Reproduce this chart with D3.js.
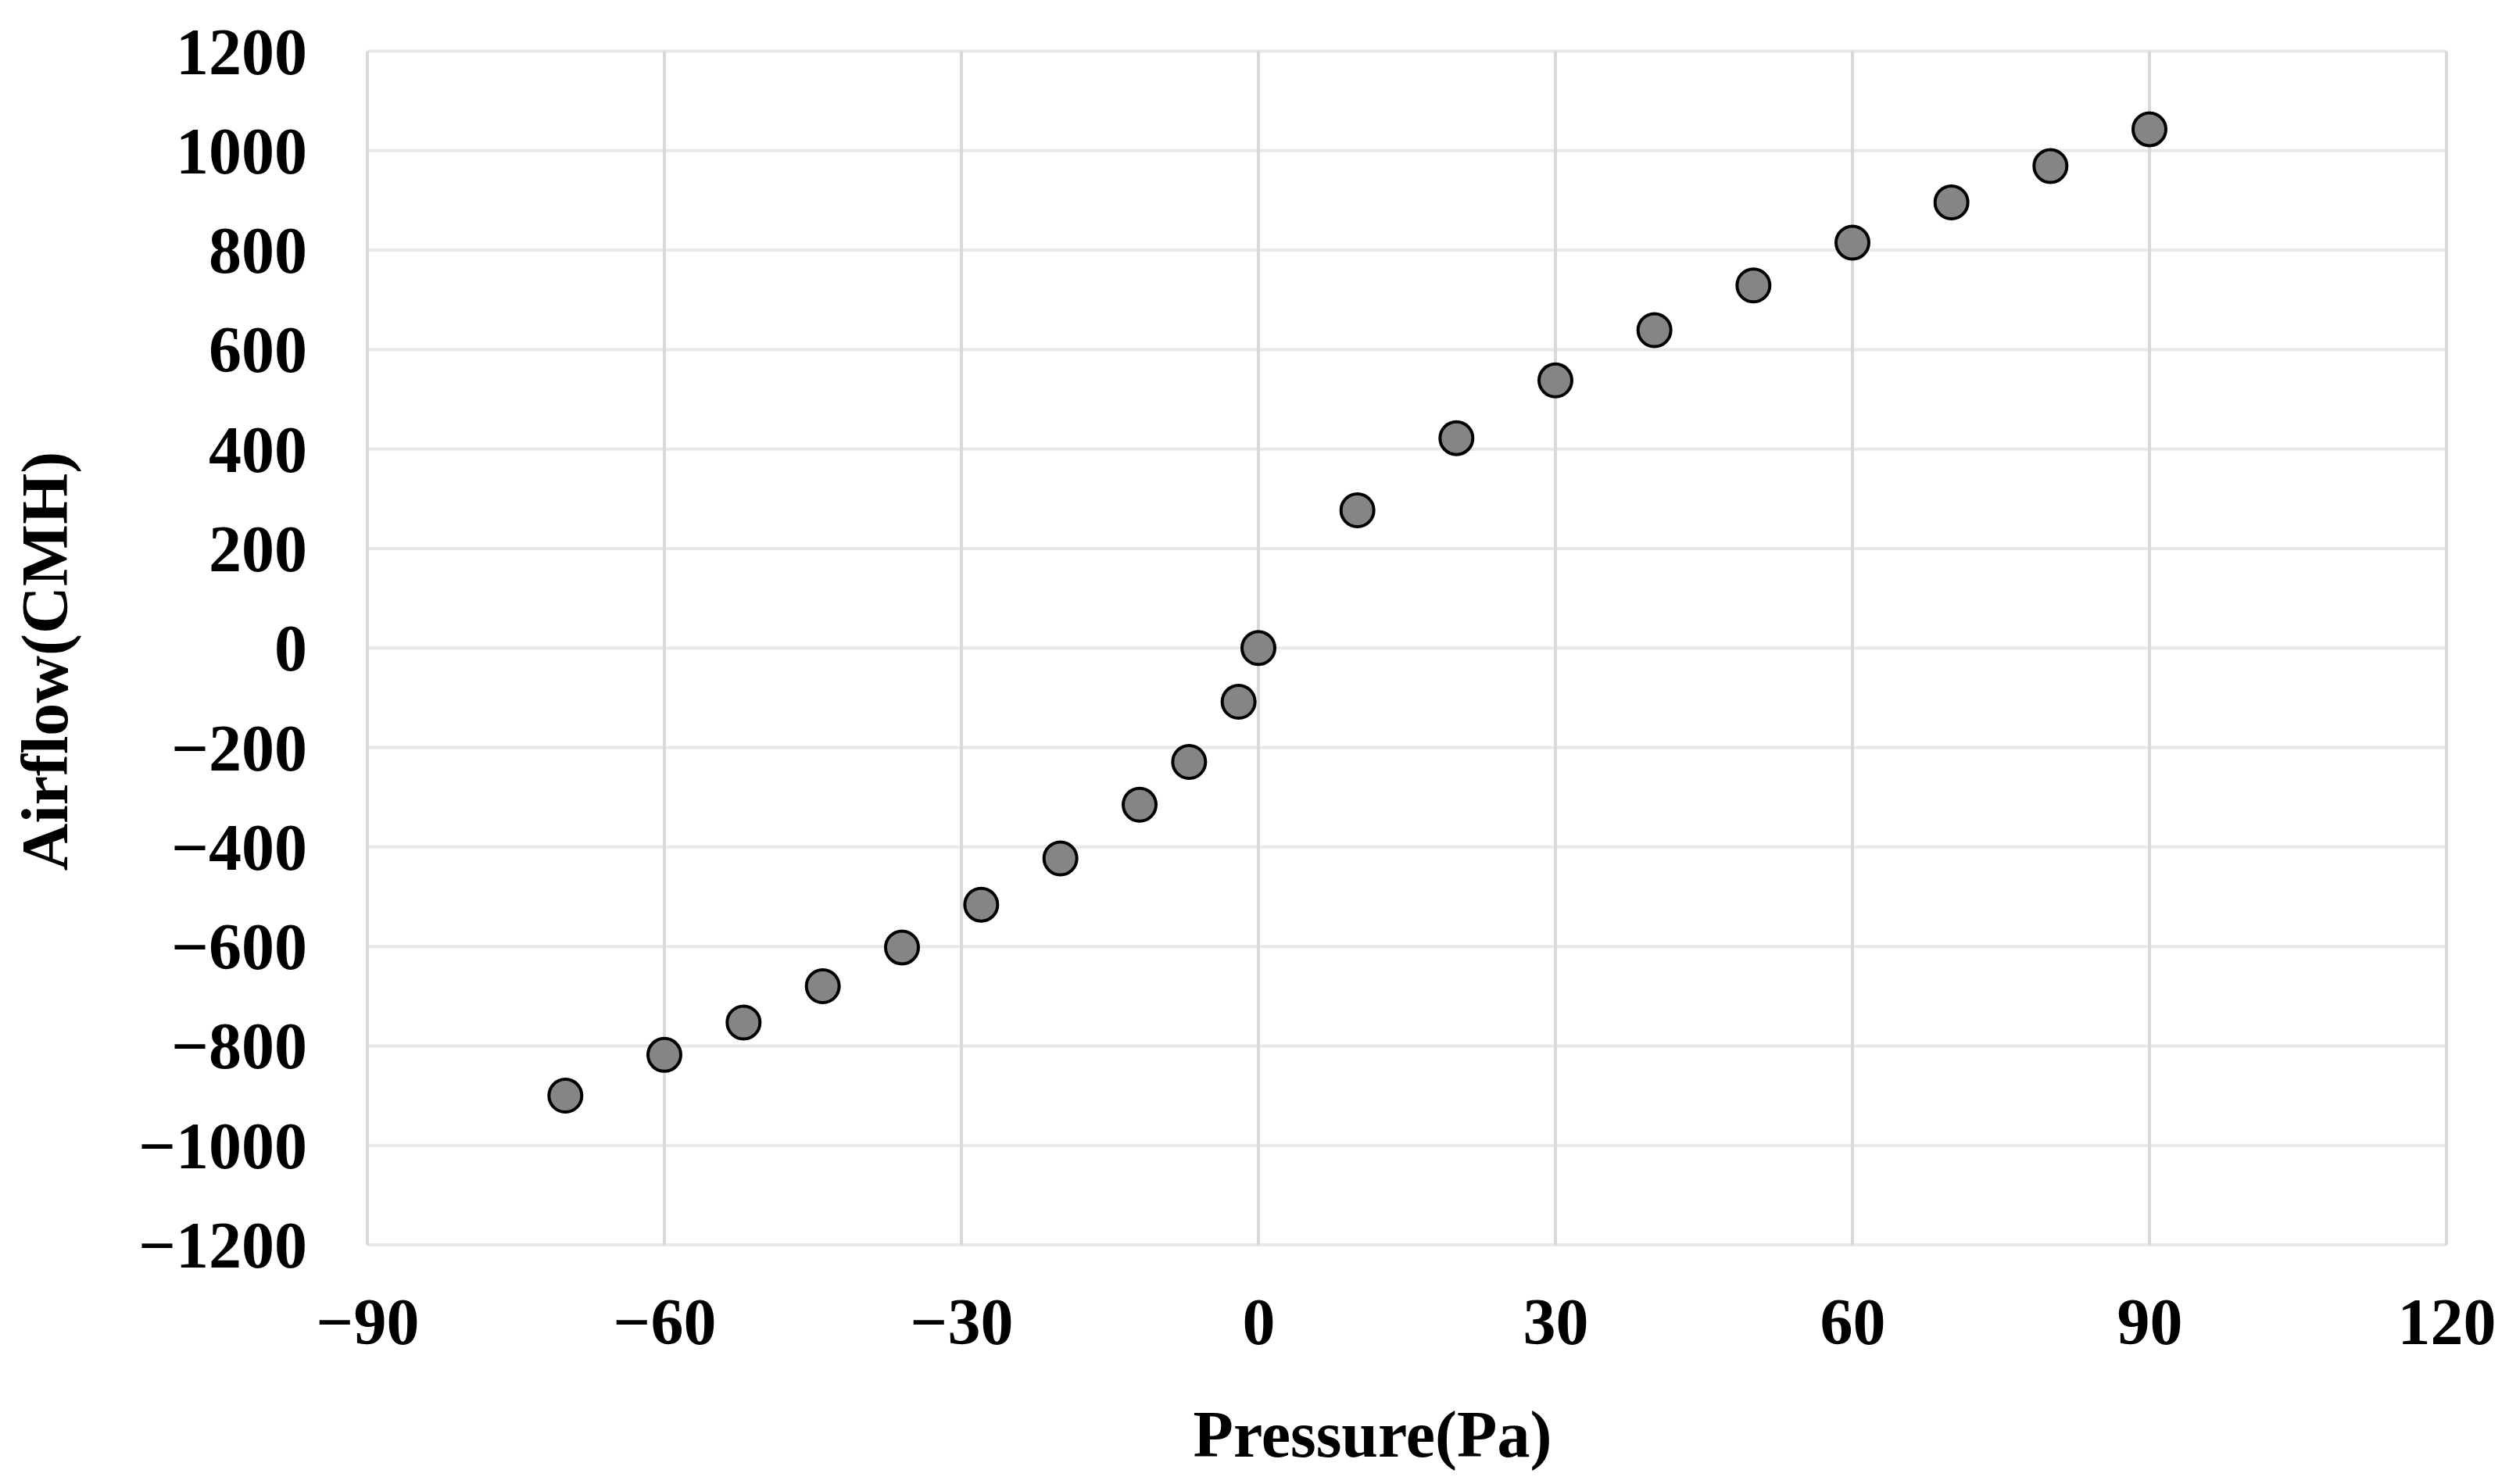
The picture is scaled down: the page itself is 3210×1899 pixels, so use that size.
<!DOCTYPE html>
<html>
<head>
<meta charset="utf-8">
<script src="https://cdn.jsdelivr.net/npm/d3@7"></script>
<style>
  html, body { margin: 0; padding: 0; background: #ffffff; }
  svg { display: block; }
</style>
</head>
<body>
<script>
// ---- data ----
const pressure = [-70, -60, -52, -44, -36, -28, -20, -12, -7, -2, 0, 10, 20, 30, 40, 50, 60, 70, 80, 90];
const airflow  = [-900, -818, -753, -680, -602, -516, -423, -315, -229, -108, 0, 277, 422, 538, 639, 729, 815, 896, 969, 1043];
const xTicks = [-90, -60, -30, 0, 30, 60, 90, 120];
const yTicks = [-1200, -1000, -800, -600, -400, -200, 0, 200, 400, 600, 800, 1000, 1200];
const xTitle = "Pressure(Pa)";
const yTitle = "Airflow(CMH)";

(function () {
// ---- layout ----
const W = 3210, H = 1899;
const mLeft = 470, mRight = 3130, mTop = 65.5, mBottom = 1593;
const font = "'Liberation Serif', 'Times New Roman', serif";

const svg = d3.select("body").append("svg").attr("width", W).attr("height", H);

const x = d3.scaleLinear().domain([-90, 120]).range([mLeft, mRight]);
const y = d3.scaleLinear().domain([-1200, 1200]).range([mBottom, mTop]);

// horizontal gridlines
svg.append("g").selectAll("line").data(yTicks).join("line")
  .attr("x1", mLeft).attr("x2", mRight)
  .attr("y1", d => y(d)).attr("y2", d => y(d))
  .attr("stroke", "#e8e8e8").attr("stroke-width", 4);

// vertical gridlines
svg.append("g").selectAll("line").data(xTicks).join("line")
  .attr("x1", d => x(d)).attr("x2", d => x(d))
  .attr("y1", mTop).attr("y2", mBottom)
  .attr("stroke", "#d9d9d9").attr("stroke-width", 4);

// y axis labels
const yAxis = d3.axisLeft(y).tickValues(yTicks).tickSize(0).tickPadding(0).tickFormat(d3.format("d"));
const gy = svg.append("g").attr("transform", `translate(${393},0)`).call(yAxis);
gy.select(".domain").remove();
gy.selectAll("text")
  .attr("font-family", font).attr("font-weight", "bold").attr("font-size", 84)
  .attr("fill", "#000").attr("x", 0).attr("dy", "0.34em");

// x axis labels
const xAxis = d3.axisBottom(x).tickValues(xTicks).tickSize(0).tickPadding(0).tickFormat(d3.format("d"));
const gx = svg.append("g").attr("transform", `translate(0,${1720})`).call(xAxis);
gx.select(".domain").remove();
gx.selectAll("text")
  .attr("font-family", font).attr("font-weight", "bold").attr("font-size", 84)
  .attr("fill", "#000").attr("y", 0).attr("dy", 0);

// axis titles
svg.append("text")
  .attr("x", 1756).attr("y", 1864)
  .attr("text-anchor", "middle")
  .attr("font-family", font).attr("font-weight", "bold").attr("font-size", 84)
  .text(xTitle);

svg.append("text")
  .attr("transform", `translate(86,846) rotate(-90)`)
  .attr("text-anchor", "middle")
  .attr("font-family", font).attr("font-weight", "bold").attr("font-size", 84)
  .text(yTitle);

// points
const pts = pressure.map((p, i) => ({ p, a: airflow[i] }));
svg.append("g").selectAll("circle").data(pts).join("circle")
  .attr("cx", d => x(d.p)).attr("cy", d => y(d.a))
  .attr("r", 21)
  .attr("fill", "#858585")
  .attr("stroke", "#000").attr("stroke-width", 4);
})();
</script>
</body>
</html>
